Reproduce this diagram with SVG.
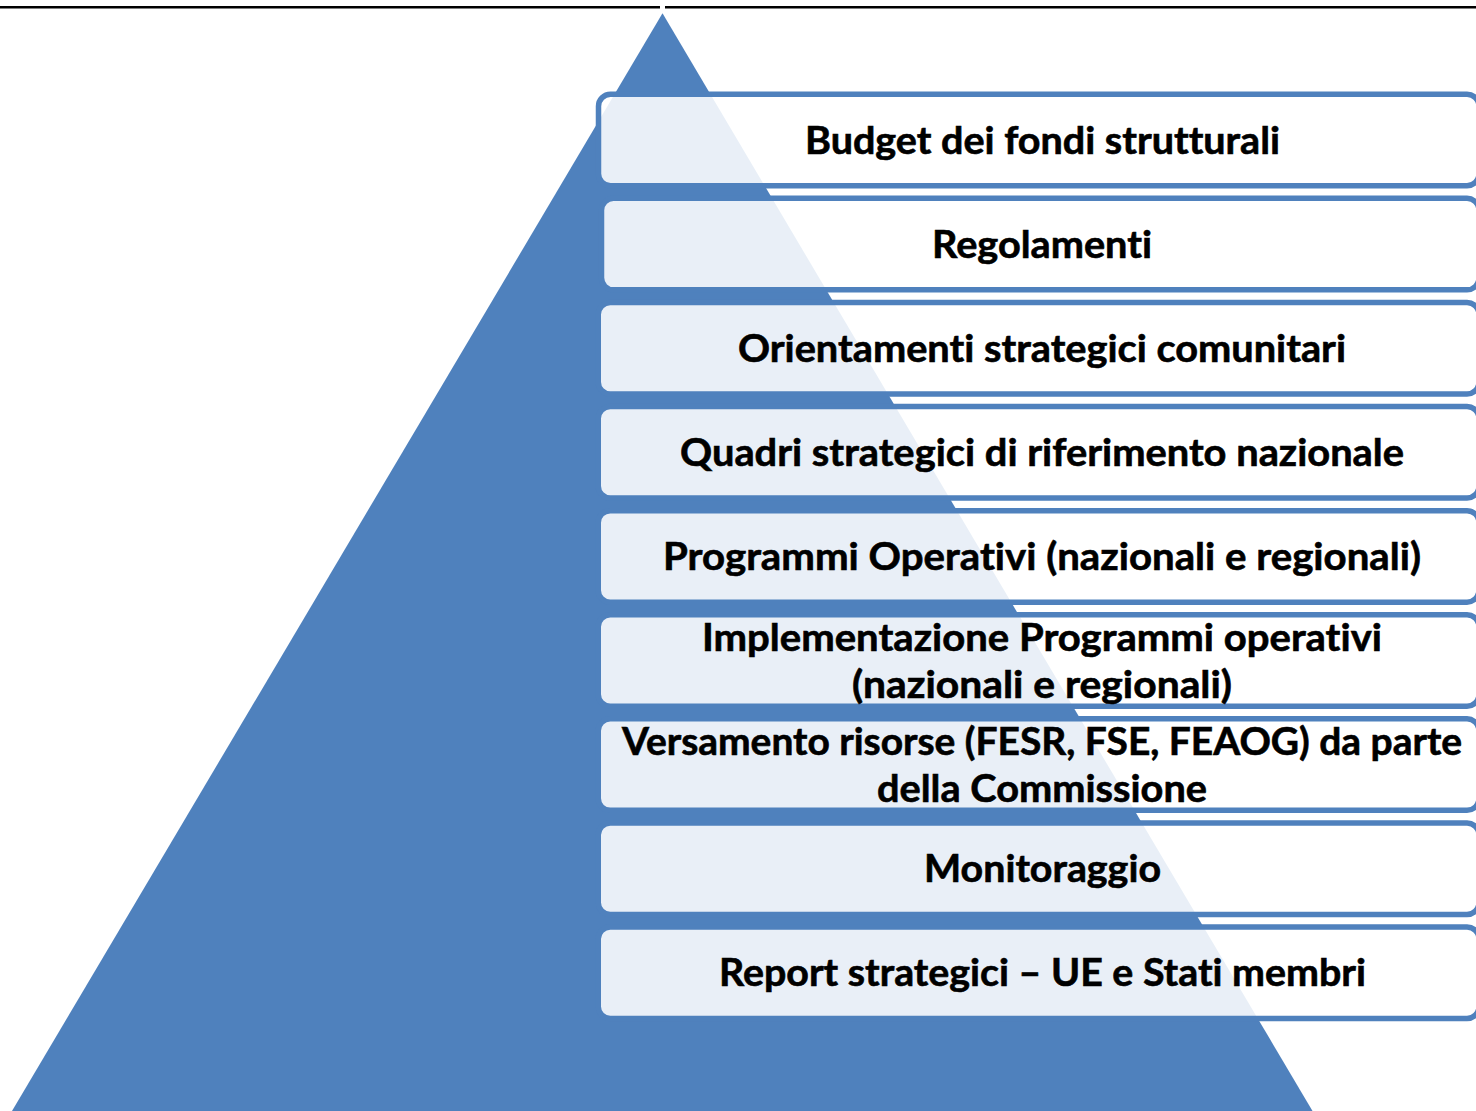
<svg xmlns="http://www.w3.org/2000/svg" width="1476" height="1111" viewBox="0 0 1476 1111">
<style>
.bg{fill:#ffffff}
.rule{stroke:#000000;stroke-width:2.4}
.pyr{fill:#4F81BD}
.box{fill:#ffffff;fill-opacity:0.875;stroke:#4F81BD;stroke-width:5.5}
.lbl{font-family:"Lato","Open Sans","Liberation Sans",sans-serif;font-weight:700;font-size:38px;fill:#000000;stroke:#000000;stroke-width:0.6;text-anchor:middle;font-variant-ligatures:none;font-feature-settings:"liga" 0}
</style>
<rect class="bg" x="0" y="0" width="1476" height="1111"/>
<g id="top-rule">
<line class="rule" x1="0" y1="7.3" x2="660" y2="7.3"/>
<line class="rule" x1="665" y1="7.3" x2="1476" y2="7.3"/>
</g>
<polygon id="pyramid" class="pyr" points="662.5,13.3 1312.5,1111 12,1111"/>
<g id="n1">
<rect class="box" x="598.5" y="94.25" width="880.5" height="91.5" rx="12"/>
<text class="lbl" x="1042.5" y="153.5" textLength="475" lengthAdjust="spacingAndGlyphs">Budget dei fondi strutturali</text>
</g>
<g id="n2">
<rect class="box" x="601.5" y="198.35" width="877.5" height="91.5" rx="12"/>
<text class="lbl" x="1042" y="257.5" textLength="220" lengthAdjust="spacingAndGlyphs">Regolamenti</text>
</g>
<g id="n3">
<rect class="box" x="598.25" y="302.45" width="880.75" height="91.5" rx="12"/>
<text class="lbl" x="1042" y="361.5" textLength="608" lengthAdjust="spacingAndGlyphs">Orientamenti strategici comunitari</text>
</g>
<g id="n4">
<rect class="box" x="598.25" y="406.55" width="880.75" height="91.5" rx="12"/>
<text class="lbl" x="1042" y="465.5" textLength="724" lengthAdjust="spacingAndGlyphs">Quadri strategici di riferimento nazionale</text>
</g>
<g id="n5">
<rect class="box" x="598.25" y="510.65" width="880.75" height="91.5" rx="12"/>
<text class="lbl" x="1042" y="569.5" textLength="758" lengthAdjust="spacingAndGlyphs">Programmi Operativi (nazionali e regionali)</text>
</g>
<g id="n6">
<rect class="box" x="598.25" y="614.75" width="880.75" height="91.5" rx="12"/>
<text class="lbl" x="1042" y="650.5" textLength="680" lengthAdjust="spacingAndGlyphs">Implementazione Programmi operativi</text>
<text class="lbl" x="1042" y="697.5" textLength="380" lengthAdjust="spacingAndGlyphs">(nazionali e regionali)</text>
</g>
<g id="n7">
<rect class="box" x="598.25" y="718.85" width="880.75" height="91.5" rx="12"/>
<text class="lbl" x="1042" y="754.5" textLength="840" lengthAdjust="spacingAndGlyphs">Versamento risorse (FESR, FSE, FEAOG) da parte</text>
<text class="lbl" x="1042" y="801.5" textLength="330" lengthAdjust="spacingAndGlyphs">della Commissione</text>
</g>
<g id="n8">
<rect class="box" x="598.25" y="822.95" width="880.75" height="91.5" rx="12"/>
<text class="lbl" x="1042.5" y="881.5" textLength="237" lengthAdjust="spacingAndGlyphs">Monitoraggio</text>
</g>
<g id="n9">
<rect class="box" x="598.25" y="927.05" width="880.75" height="91.5" rx="12"/>
<text class="lbl" x="1042.5" y="985.5" textLength="647" lengthAdjust="spacingAndGlyphs">Report strategici – UE e Stati membri</text>
</g>
<g id="connectors"></g>
</svg>
